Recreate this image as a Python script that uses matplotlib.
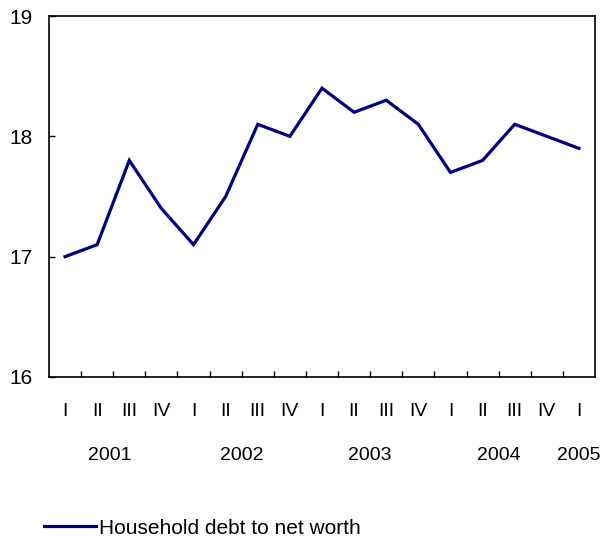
import matplotlib
matplotlib.use("Agg")
import matplotlib.pyplot as plt
import matplotlib.transforms as mtransforms

plt.rcParams['font.family'] = ['Liberation Sans', 'DejaVu Sans']

quarters = ["I", "II", "III", "IV", "I", "II", "III", "IV", "I", "II", "III", "IV",
            "I", "II", "III", "IV", "I"]
years = ["2001", "2002", "2003", "2004", "2005"]
year_centers = [1.9, 6.0, 10.0, 14.0, 16.5]
values = [17.0, 17.1, 17.8, 17.4, 17.1, 17.5, 18.1, 18.0, 18.4, 18.2, 18.3, 18.1,
          17.7, 17.8, 18.1, 18.0, 17.9]
series_name = "Household debt to net worth"

fig = plt.figure(figsize=(6.01, 5.39), dpi=100)
ax = fig.add_axes([49/601, 1 - 377/539, (595 - 49)/601, (377 - 16)/539])

x = [i + 0.5 for i in range(len(values))]
line, = ax.plot(x, values, color='#000080', lw=2.3, solid_joinstyle='miter',
                label=series_name)

ax.set_xlim(0, len(values))
ax.set_ylim(16, 19)
ax.set_yticks([16, 17, 18, 19])
ax.tick_params(axis='y', direction='in', length=4, width=1, pad=12, labelsize=15)
ax.set_xticks(range(1, len(values)))
ax.set_xticklabels([])
ax.tick_params(axis='x', direction='in', length=4, width=1)
for s in ax.spines.values():
    s.set_linewidth(1.2)
    s.set_color('black')

trans = mtransforms.blended_transform_factory(ax.transData, fig.transFigure)
for xi, q in zip(x, quarters):
    ax.text(xi, 1 - 412/539, q, transform=trans, ha='center', va='center',
            fontsize=14, clip_on=False)
for xc, y in zip(year_centers, years):
    ax.text(xc, 1 - 456/539, y, transform=trans, ha='center', va='center',
            fontsize=14, clip_on=False)

fig.legend(handles=[line], loc='center left',
           bbox_to_anchor=(44/601, 1 - 528/539), bbox_transform=fig.transFigure,
           frameon=False, fontsize=15, handlelength=2.5, handletextpad=0.12,
           borderpad=0, borderaxespad=0)

fig.savefig("out.png", dpi=100)
